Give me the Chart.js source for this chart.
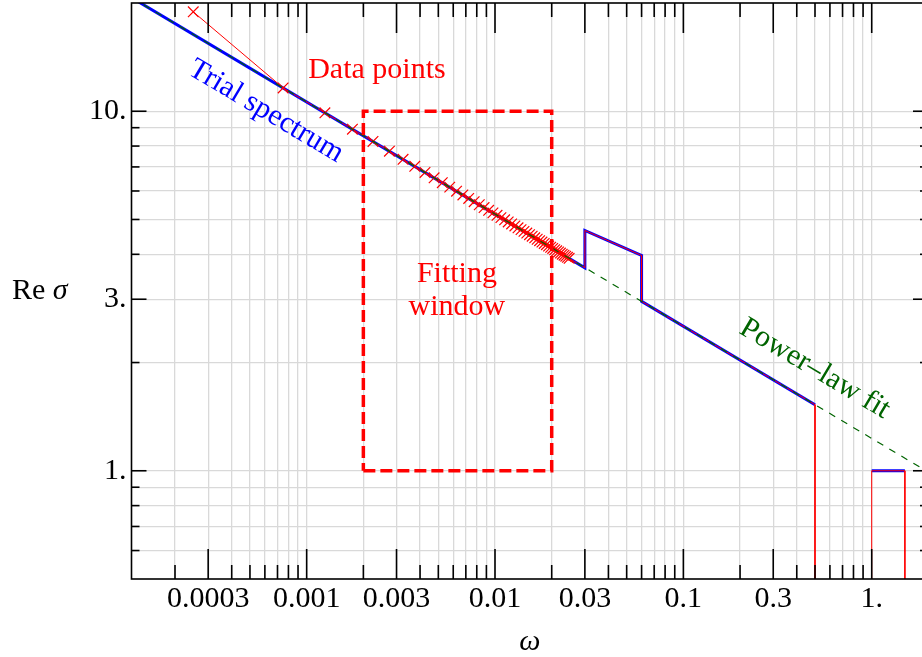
<!DOCTYPE html>
<html>
<head>
<meta charset="utf-8">
<script src="https://cdn.jsdelivr.net/npm/chart.js@4"></script>
<style>
html,body{margin:0;padding:0;background:#fff;overflow:hidden;}
#wrap{width:930px;height:657px;position:relative;}
canvas{display:block;}
</style>
</head>
<body>
<div id="wrap"><canvas id="c" width="930" height="657"></canvas></div>
<script>
// ---- data ----
const dataOmega = [0.00025, 0.00075, 0.00125, 0.00175, 0.00225, 0.00275, 0.00325, 0.00375, 0.00425, 0.00475,
  0.00525, 0.00575, 0.00625, 0.00675, 0.00725, 0.00775, 0.00825, 0.00875, 0.00925, 0.00975,
  0.01025, 0.01075, 0.01125, 0.01175, 0.01225, 0.01275, 0.01325, 0.01375, 0.01425, 0.01475,
  0.01525, 0.01575, 0.01625, 0.01675, 0.01725, 0.01775, 0.01825, 0.01875, 0.01925, 0.01975,
  0.02025, 0.02075, 0.02125, 0.02175, 0.02225, 0.02275, 0.02325, 0.02375, 0.02425, 0.02475];
const dataRe = [18.9, 11.61, 9.900, 8.914, 8.241, 7.740, 7.348, 7.027, 6.758, 6.527,
  6.327, 6.150, 5.992, 5.850, 5.721, 5.603, 5.494, 5.395, 5.302, 5.215,
  5.135, 5.059, 4.988, 4.920, 4.857, 4.797, 4.739, 4.685, 4.633, 4.584,
  4.536, 4.491, 4.447, 4.405, 4.365, 4.326, 4.289, 4.253, 4.218, 4.185,
  4.152, 4.121, 4.090, 4.061, 4.032, 4.004, 3.977, 3.951, 3.925, 3.900];
// continuation of the data curve beyond the sampled points (0.001 stands for zero)
const tailOmega = [0.03, 0.03, 0.06, 0.06, 0.5, 0.5, 1, 1, 1.5, 1.5];
const tailRe    = [3.67, 4.66, 3.97, 2.96, 1.527, 0.001, 0.001, 1, 1, 0.001];
// trial spectrum (null = gap)
const trialOmega = [0.0001175, 0.03, 0.03, 0.06, 0.06, 0.5, 0.75, 1, 1.5];
const trialRe    = [20.7, 3.67, 4.66, 3.97, 2.96, 1.527, null, 1, 1];
// power-law fit
const fitOmega = [0.0001175, 2];
const fitRe    = [20.7, 0.991];
// fitting window
const windowOmega = [0.002, 0.02];
const windowRe    = [1, 10];

// axis ticks
const xMajorTicks  = [0.0003, 0.001, 0.003, 0.01, 0.03, 0.1, 0.3, 1];
const xMajorLabels = ["0.0003", "0.001", "0.003", "0.01", "0.03", "0.1", "0.3", "1."];
const xMinorTicks  = [0.0002, 0.0004, 0.0005, 0.0006, 0.0007, 0.0008, 0.0009,
  0.002, 0.004, 0.005, 0.006, 0.007, 0.008, 0.009,
  0.02, 0.04, 0.05, 0.06, 0.07, 0.08, 0.09,
  0.2, 0.4, 0.5, 0.6, 0.7, 0.8, 0.9];
const yMajorTicks  = [1, 3, 10];
const yMajorLabels = ["1.", "3.", "10."];
const yMinorTicks  = [0.6, 0.7, 0.8, 0.9, 2, 4, 5, 6, 7, 8, 9];

const xRange = [0.0001175, 1.99];
const yRange = [0.5, 20];

// ---- build ----
const pts = (xs, ys) => xs.map((v, i) => ({x: v, y: ys[i]}));
const redLine = pts(dataOmega.concat(tailOmega), dataRe.concat(tailRe));
const rect = pts([windowOmega[0], windowOmega[1], windowOmega[1], windowOmega[0], windowOmega[0]],
                 [windowRe[0], windowRe[0], windowRe[1], windowRe[1], windowRe[0]]);

const xAll = xMajorTicks.concat(xMinorTicks).sort((a, b) => a - b);
const yAll = yMajorTicks.concat(yMinorTicks).sort((a, b) => a - b);

const FONT = "'Liberation Serif', 'Times New Roman', serif";
Chart.defaults.font.family = FONT;

const framePlugin = {
  id: 'frameTicks',
  afterDraw(chart) {
    const {ctx, chartArea: a, scales: {x, y}} = chart;
    ctx.save();
    // annotations
    const txt = (s, wx, wy, color, rot, base) => {
      const px = x.getPixelForValue(wx), py = y.getPixelForValue(wy);
      ctx.save();
      ctx.translate(px, py);
      ctx.rotate(rot * Math.PI / 180);
      ctx.fillStyle = color;
      ctx.font = "30px " + FONT;
      ctx.textAlign = 'center';
      ctx.textBaseline = base;
      ctx.fillText(s, 0, 0);
      ctx.restore();
    };
    txt("Data points", 0.00236, 12.36, '#ff0000', 0, 'alphabetic');
    txt("Fitting", 0.006278, 3.36, '#ff0000', 0, 'alphabetic');
    txt("window", 0.006278, 2.72, '#ff0000', 0, 'alphabetic');
    txt("Trial spectrum", 0.000608, 10.0, '#0000ff', 30.7, 'middle');
    txt("Power\u2013law fit", 0.499, 1.92, '#006400', 30.7, 'middle');

    // axis titles
    ctx.fillStyle = '#000';
    ctx.textBaseline = 'alphabetic';
    ctx.textAlign = 'left';
    ctx.font = "30px " + FONT;
    const cy = (a.top + a.bottom) / 2 + 8;
    ctx.fillText("Re", 12, cy);
    const w = ctx.measureText("Re ").width;
    ctx.font = "italic 30px " + FONT;
    ctx.fillText("\u03c3", 12 + w, cy);
    ctx.textAlign = 'center';
    ctx.fillText("\u03c9", (a.left + a.right) / 2, a.bottom + 71);

    // frame and inward ticks
    ctx.strokeStyle = '#000';
    ctx.lineWidth = 1.6;
    const seg = (x1, y1, x2, y2) => { ctx.beginPath(); ctx.moveTo(x1, y1); ctx.lineTo(x2, y2); ctx.stroke(); };
    const xt = (v, len) => { const p = x.getPixelForValue(v); seg(p, a.bottom, p, a.bottom - len); seg(p, a.top, p, a.top + len); };
    const yt = (v, len) => { const p = y.getPixelForValue(v); seg(a.left, p, a.left + len, p); seg(a.right, p, a.right - len, p); };
    xMajorTicks.forEach(v => xt(v, 30));
    xMinorTicks.forEach(v => xt(v, 14));
    yMajorTicks.forEach(v => yt(v, 15));
    yMinorTicks.forEach(v => yt(v, 8));
    ctx.strokeRect(a.left, a.top, a.right - a.left, a.bottom - a.top);
    ctx.restore();
  }
};

new Chart(document.getElementById('c'), {
  type: 'scatter',
  data: {
    datasets: [
      { label: 'window', data: rect, showLine: true, order: -1, borderColor: '#ff0000', borderWidth: 3.5,
        borderDash: [12, 5], pointRadius: 0, fill: false, tension: 0, borderJoinStyle: 'miter' },
      { label: 'fit', data: pts(fitOmega, fitRe), showLine: true, order: 0, borderColor: '#006400', borderWidth: 1.2,
        borderDash: [7, 7], pointRadius: 0, fill: false },
      { label: 'Data points', data: pts(dataOmega, dataRe), showLine: false, order: 1, pointStyle: 'crossRot',
        pointRadius: 7.5, pointBorderColor: '#ff0000', pointBorderWidth: 1.2, borderColor: '#ff0000', backgroundColor: '#ff0000' },
      { label: 'data line', data: redLine, showLine: true, order: 2, borderColor: '#ff0000', borderWidth: 1,
        pointRadius: 0, fill: false },
      { label: 'Trial spectrum', data: pts(trialOmega, trialRe), showLine: true, spanGaps: false, order: 3,
        borderColor: '#0000ff', borderWidth: 3, pointRadius: 0, fill: false }
    ]
  },
  options: {
    responsive: false,
    animation: false,
    events: [],
    layout: { autoPadding: false, padding: { top: 3, right: 2, left: 0, bottom: 0 } },
    plugins: { legend: { display: false }, tooltip: { enabled: false } },
    scales: {
      x: {
        type: 'logarithmic', min: xRange[0], max: xRange[1],
        afterBuildTicks: s => { s.ticks = xAll.map(v => ({value: v})); },
        afterFit: s => { s.height = 78; s.paddingLeft = 0; s.paddingRight = 0; },
        border: { display: false },
        grid: { color: '#d9d9d9', lineWidth: 1.3, drawTicks: false },
        ticks: { autoSkip: false, maxRotation: 0, minRotation: 0, padding: 2, color: '#000',
          font: { size: 30, family: FONT },
          callback: v => { const i = xMajorTicks.indexOf(v); return i >= 0 ? xMajorLabels[i] : ''; } }
      },
      y: {
        type: 'logarithmic', min: yRange[0], max: yRange[1],
        afterBuildTicks: s => { s.ticks = yAll.map(v => ({value: v})); },
        afterFit: s => { s.width = 131.5; s.paddingTop = 0; s.paddingBottom = 0; },
        border: { display: false },
        grid: { color: '#d9d9d9', lineWidth: 1.3, drawTicks: false },
        ticks: { autoSkip: false, padding: 5, color: '#000', font: { size: 30, family: FONT },
          callback: v => { const i = yMajorTicks.indexOf(v); return i >= 0 ? yMajorLabels[i] : ''; } }
      }
    }
  },
  plugins: [framePlugin]
});
</script>
</body>
</html>
